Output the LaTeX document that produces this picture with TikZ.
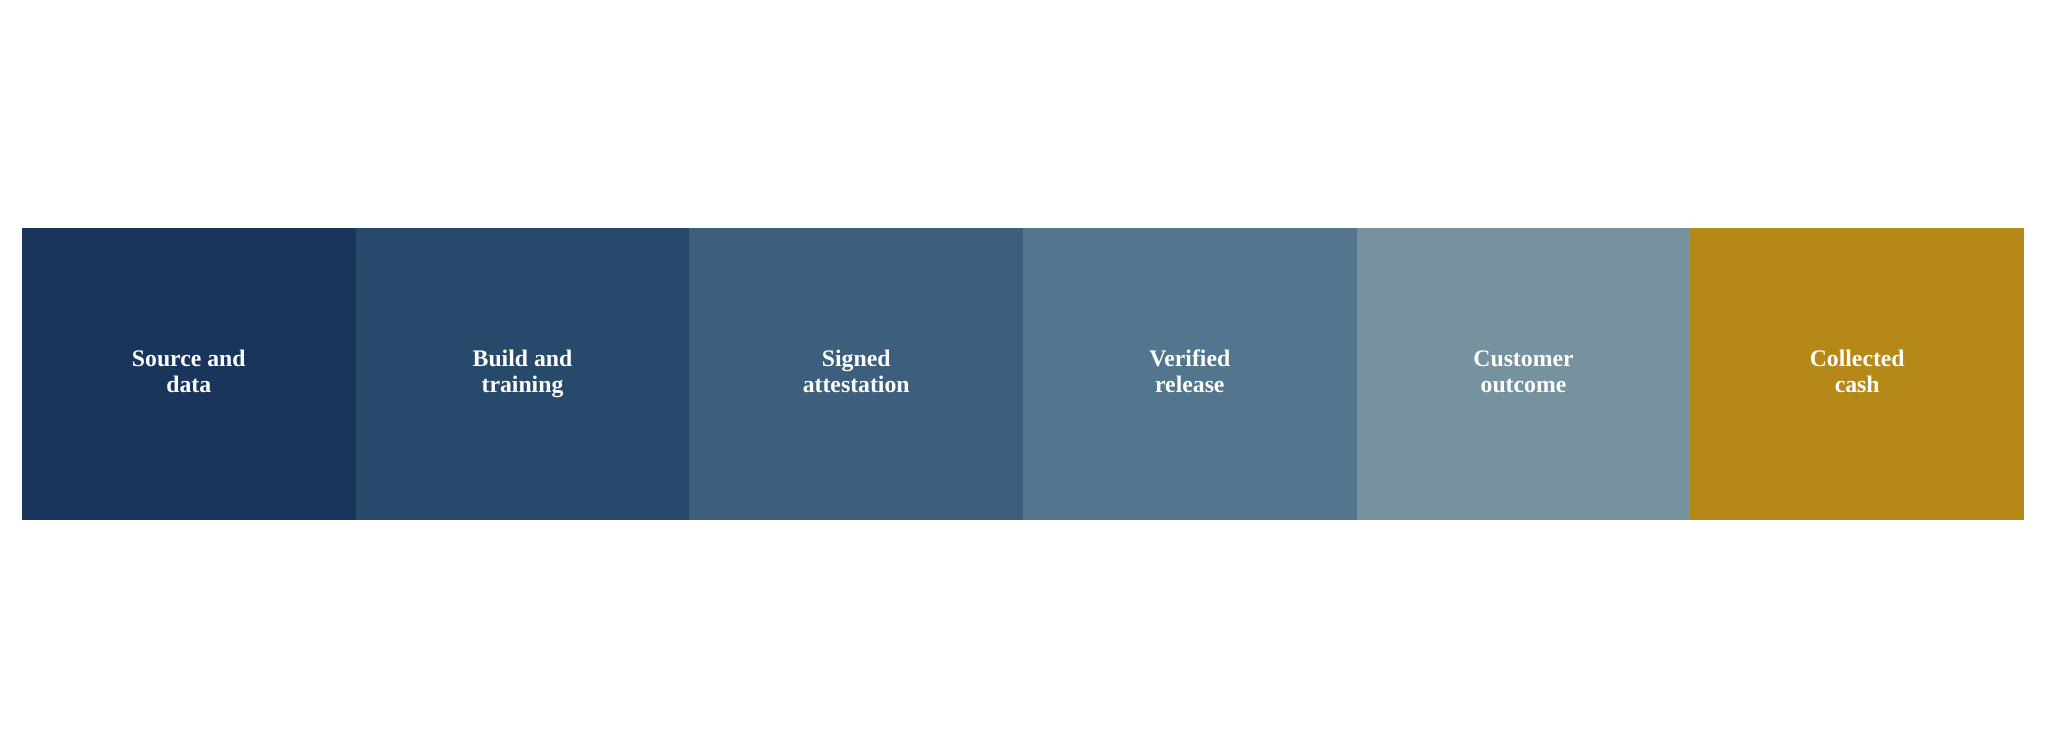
\documentclass[tikz,border=0pt]{standalone}
\usepackage{fontspec}
\setmainfont{Liberation Serif}
\definecolor{cA}{HTML}{19355C}
\definecolor{cB}{HTML}{27496A}
\definecolor{cC}{HTML}{3D5F7D}
\definecolor{cD}{HTML}{53758E}
\definecolor{cE}{HTML}{76929E}
\definecolor{cF}{HTML}{B68817}
\begin{document}
\begin{tikzpicture}[x=0.75pt,y=-0.75pt,
  stagebox/.style={rectangle,draw=none,inner sep=0pt,outer sep=0pt,minimum width=250.4pt,minimum height=219pt},
  lbl/.style={anchor=base,text=white,inner sep=0pt,font=\fontsize{17.8pt}{19.2pt}\selectfont\bfseries}]
\useasboundingbox (0,0) rectangle (2046,748);
\fill[white] (0,0) rectangle (2046,748);
\node[stagebox,fill=cA] (b1) at (188.8,374) {};
\node[stagebox,fill=cB] (b2) at (522.5,374) {};
\node[stagebox,fill=cC] (b3) at (856.2,374) {};
\node[stagebox,fill=cD] (b4) at (1189.8,374) {};
\node[stagebox,fill=cE] (b5) at (1523.5,374) {};
\node[stagebox,fill=cF] (b6) at (1857.2,374) {};
\node[lbl] (t1a) at (188.8,366.7) {Source and};
\node[lbl] (t1b) at (188.8,392.3) {data};
\node[lbl] (t2a) at (522.5,366.7) {Build and};
\node[lbl] (t2b) at (522.5,392.3) {training};
\node[lbl] (t3a) at (856.2,366.7) {Signed};
\node[lbl] (t3b) at (856.2,392.3) {attestation};
\node[lbl] (t4a) at (1189.8,366.7) {Verified};
\node[lbl] (t4b) at (1189.8,392.3) {release};
\node[lbl] (t5a) at (1523.5,366.7) {Customer};
\node[lbl] (t5b) at (1523.5,392.3) {outcome};
\node[lbl] (t6a) at (1857.2,366.7) {Collected};
\node[lbl] (t6b) at (1857.2,392.3) {cash};
\end{tikzpicture}
\end{document}
